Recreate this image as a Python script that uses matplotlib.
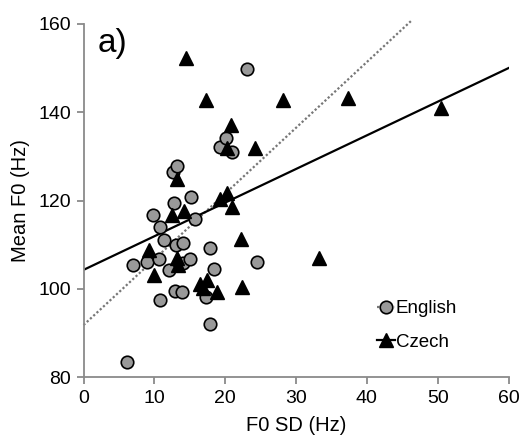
import matplotlib
matplotlib.use("Agg")
import matplotlib.pyplot as plt
import numpy as np

# ── Data ──────────────────────────────────────────────────────────────────────
eng_sd = [23.1, 19.3, 20.1, 21.0, 12.6, 13.2, 15.2, 12.7, 9.8, 15.8, 10.8, 11.3,
          13.1, 14.0, 7.0, 8.9, 10.6, 14.1, 15.0, 12.0, 17.8, 18.4, 12.9, 13.9,
          10.8, 17.3, 17.9, 6.1, 24.5]
eng_f0 = [149.8, 132.2, 134.2, 130.9, 126.4, 127.9, 120.9, 119.5, 116.7, 115.9,
          114.1, 111.1, 109.9, 110.3, 105.4, 106.1, 106.7, 105.8, 106.7, 104.3,
          109.3, 104.5, 99.5, 99.3, 97.5, 98.2, 92.0, 83.5, 106.1]

cz_sd = [14.5, 17.3, 20.8, 24.2, 20.3, 28.2, 37.3, 50.4, 13.2, 12.5, 14.2, 19.3,
         20.2, 21.0, 22.2, 9.2, 13.2, 13.4, 10.0, 16.5, 17.4, 16.9, 18.8, 22.3, 33.2]
cz_f0 = [152.3, 142.8, 137.1, 131.8, 132.0, 142.8, 143.2, 140.9, 124.8, 116.7,
         117.7, 120.4, 121.7, 118.6, 111.2, 108.8, 106.9, 105.4, 103.1, 101.2,
         102.0, 100.2, 99.3, 100.5, 106.9]

# trendlines (intercept, slope, x end)
eng_fit = (91.8, 1.49, 46.2)
cz_fit = (104.3, 0.762, 60.0)

plt.rcParams["font.family"] = ["Liberation Sans", "DejaVu Sans"]

fig = plt.figure(figsize=(5.19, 4.36), dpi=100)
ax = fig.add_axes([0.161, 0.135, 0.819, 0.81])

gray = "#8a8a8a"

# ── Trendlines ────────────────────────────────────────────────────────────────
xe = np.array([0, eng_fit[2]])
ax.plot(xe, eng_fit[0] + eng_fit[1] * xe, color="#777777", ls=(0, (1, 1)),
        lw=1.6, clip_on=False, zorder=2)
xc = np.array([0, cz_fit[2]])
ax.plot(xc, cz_fit[0] + cz_fit[1] * xc, color="black", lw=1.6, zorder=2)

# ── Points ────────────────────────────────────────────────────────────────────
ax.plot(eng_sd, eng_f0, ls="none", marker="o", ms=9, mfc="#999999",
        mec="black", mew=1.2, zorder=3)
ax.plot(cz_sd, cz_f0, ls="none", marker="^", ms=9.5, mfc="black",
        mec="black", zorder=4)

# ── Legend ────────────────────────────────────────────────────────────────────
h_eng = plt.Line2D([], [], color="#777777", ls=(0, (1, 1)), lw=1.6, marker="o",
                   ms=9, mfc="#999999", mec="black", mew=1.2)
h_cz = plt.Line2D([], [], color="black", lw=1.6, marker="^", ms=9.5,
                  mfc="black", mec="black")
ax.legend([h_eng, h_cz], ["English", "Czech"], loc="upper left",
          bbox_to_anchor=(0.69, 0.218), frameon=False, fontsize=13.5,
          handlelength=0.95, handletextpad=0.05, labelspacing=0.87,
          borderpad=0, borderaxespad=0)

# ── Axes ──────────────────────────────────────────────────────────────────────
ax.set_xlim(0, 60)
ax.set_ylim(80, 160)
ax.set_xticks(range(0, 61, 10))
ax.set_yticks(range(80, 161, 20))
for s in ["top", "right"]:
    ax.spines[s].set_visible(False)
for s in ["left", "bottom"]:
    ax.spines[s].set_color(gray)
    ax.spines[s].set_linewidth(1.3)
ax.tick_params(direction="out", length=5, width=1.3, color=gray,
               labelsize=14, pad=4)
ax.set_xlabel("F0 SD (Hz)", fontsize=14.5, labelpad=7)
ax.set_ylabel("Mean F0 (Hz)", fontsize=14.5, labelpad=6)

ax.text(0.033, 0.945, "a)", transform=ax.transAxes, fontsize=24,
        va="center", ha="left")

fig.savefig("out.png", dpi=100)
